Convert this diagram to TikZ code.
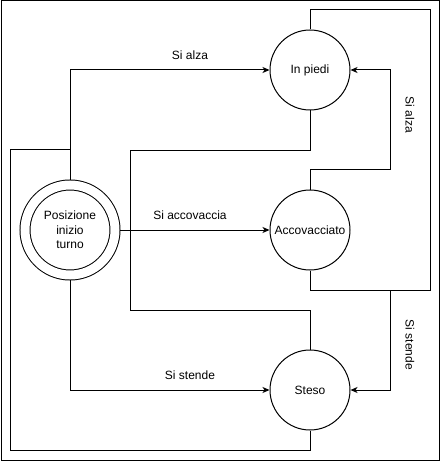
\documentclass[tikz,border=0pt]{standalone}
\usepackage{fontspec}
\setmainfont{Liberation Sans}
\usetikzlibrary{arrows.meta, positioning, calc}

\tikzset{
	stato/.style = {draw, circle, minimum size = 80pt, inner sep = 0pt, font = \fontsize{12}{14.4}\selectfont},
	iniziale/.style = {stato, minimum size = 90pt, double, double distance = 9pt, outer sep = 5pt, align = center},
	freccia/.style = {-{Stealth[length = 7pt, width = 6pt, inset = 2pt]}},
	etichetta/.style = {font = \fontsize{12}{14.4}\selectfont, inner sep = 0pt}
}

\begin{document}
\begin{tikzpicture}[x = 1pt, y = -1pt, line width = 1pt]
						\useasboundingbox (0,0) rectangle (441,462);
						\draw (1,1) rectangle (439,460);

						% stati
						\node[iniziale] (inizio) at (70,230) {Posizione\\inizio\\turno};
						\node[stato] (inpiedi) at (310,70) {In piedi};
						\node[stato] (accovacciato) at (310,230) {Accovacciato};
						\node[stato] (steso) at (310,390) {Steso};

						\coordinate (giunto sx) at (70,150);
						\coordinate (giunto dx) at (390,290);

						% transizioni dalla posizione iniziale
						\draw[freccia] (inizio.north) |- (inpiedi.west);
						\draw[freccia] (inizio.east) -- (accovacciato.west);
						\draw[freccia] (inizio.south) |- (steso.west);
						\node[etichetta] (lab alza) at (190,55) {Si alza};
						\node[etichetta] (lab accovaccia) at (190,215) {Si accovaccia};
						\node[etichetta] (lab stende) at (190,375) {Si stende};

						% transizioni tra gli stati
						\draw[freccia] (accovacciato.north) |- (390,170) |- (inpiedi.east);
						\draw[freccia] (accovacciato.south) |- (giunto dx) |- (steso.east);
						\draw (accovacciato.south) |- (430,290);
						\draw (inpiedi.north) |- (430,10) |- (giunto dx);
						\draw (inpiedi.south) -- ++(0,40) -| (130,310) -| (steso.north);
						\draw (steso.south) |- (10,450) |- (giunto sx);
						\node[etichetta, rotate = -90] (lab alza dx) at (410,115) {Si alza};
						\node[etichetta, rotate = -90] (lab stende dx) at (410,345) {Si stende};
				\end{tikzpicture}
\end{document}
